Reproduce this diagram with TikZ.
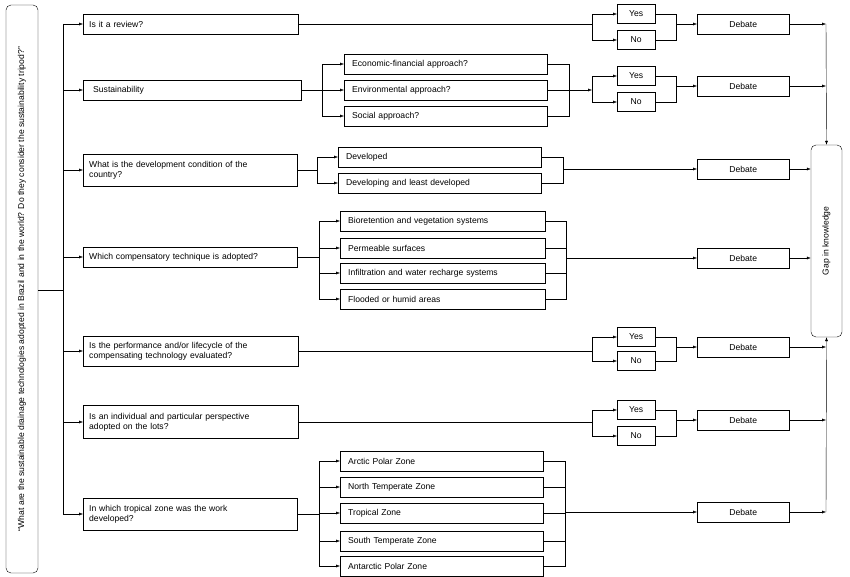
\documentclass[tikz,border=0pt]{standalone}
\usepackage{fontspec}
\setmainfont{Liberation Sans}
\usetikzlibrary{arrows.meta}

\begin{document}
\begin{tikzpicture}[x=1pt,y=-1pt,
		every node/.style={font=\fontsize{8.6}{10}\selectfont},
		arr/.style={-{Latex[length=4pt,width=3pt]}},
		qbox/.style={draw, anchor=west, minimum height=20, text width=#1, align=left, inner xsep=6pt},
		obox/.style={draw, anchor=west, minimum height=20, minimum width=#1, text width=#1-16, align=left, inner xsep=8pt},
		ybox/.style={draw, anchor=west, minimum height=19, minimum width=38},
		dbox/.style={draw, anchor=west, minimum height=20, minimum width=92}]
		\useasboundingbox (0,0) rectangle (850,577);
		% main question and gap box
		\node[draw, rounded corners=5, minimum width=32, minimum height=568] (main) at (22,289) {};
		\node[rotate=90] at (main.center) {``What are the sustainable drainage technologies adopted in Brazil and in the world? Do they consider the sustainability tripod?''};
		\node[draw, rounded corners=5, minimum width=31, minimum height=192] (gap) at (826.5,241) {};
		\node[rotate=90] at (gap.center) {Gap in knowledge};
		% questions
		\node[qbox=203] (q1) at (83,24) {Is it a review?};
		\node[qbox=206] (q2) at (83,90) {\hspace{4pt}Sustainability};
		\node[qbox=202, minimum height=32] (q3) at (83,170) {What is the development condition of the\\country?};
		\node[qbox=202] (q4) at (83,257) {Which compensatory technique is adopted?};
		\node[qbox=203, minimum height=30] (q5) at (83,351) {Is the performance and/or lifecycle of the\\compensating technology evaluated?};
		\node[qbox=203, minimum height=33] (q6) at (83,422) {Is an individual and particular perspective\\adopted on the lots?};
		\node[qbox=202, minimum height=32] (q7) at (83,514) {In which tropical zone was the work\\developed?};
		\coordinate (sp) at (63,290);
		\draw (main.east |- sp) -- (sp);
		\draw (63,24) -- (63,514);
		\foreach \q in {q1,q2,q3,q4,q5,q6,q7}
			\draw[arr] (63,0 |- \q.west) -- (\q.west);
		% debates
		\foreach \n/\y in {1/24,2/86,3/169,4/258,5/347,6/420,7/512}
			\node[dbox] (d\n) at (697,\y) {Debate};
		% yes/no branches
		\foreach \n/\d/\a/\b in {1/1/14/40,2/2/76/102,5/5/337/361,6/6/410/436}{
			\node[ybox] (y\n) at (617,\a) {Yes};
			\node[ybox] (n\n) at (617,\b) {No};
			\coordinate (s\n) at (592,\a/2+\b/2);
			\coordinate (m\n) at (676,\a/2+\b/2);
			\draw[arr] (s\n) |- (y\n.west);
			\draw[arr] (s\n) |- (n\n.west);
			\draw (y\n.east) -| (m\n) |- (n\n.east);
			\draw[arr] (m\n |- d\d.west) -- (d\d.west);
		}
		\draw (q1.east) -- (q1.east -| s1);
		\draw (q5.east) -- (q5.east -| s5);
		\draw (q6.east) -- (q6.east -| s6);
		% sustainability
		\node[obox=203] (e1) at (344,64) {Economic-financial approach?};
		\node[obox=203] (e2) at (344,90) {Environmental approach?};
		\node[obox=203] (e3) at (344,116) {Social approach?};
		\draw (q2.east) -- (322,90);
		\foreach \o in {e1,e2,e3} {
			\draw[arr] (322,90) |- (\o.west);
			\draw (\o.east) -| (569,90);
		}
		\draw[arr] (569,90) -- (e2.east -| s2);
		% development
		\node[obox=203] (v1) at (338,157) {Developed};
		\node[obox=203] (v2) at (338,183) {Developing and least developed};
		\draw (q3.east) -- (317,170);
		\foreach \o in {v1,v2} {
			\draw[arr] (317,170) |- (\o.west);
			\draw (\o.east) -| (563,169);
		}
		\draw[arr] (563,169) -- (d3.west);
		% techniques
		\node[obox=205] (t1) at (340,221) {Bioretention and vegetation systems};
		\node[obox=205] (t2) at (340,248) {Permeable surfaces};
		\node[obox=205] (t3) at (340,273) {Infiltration and water recharge systems};
		\node[obox=205] (t4) at (340,299) {Flooded or humid areas};
		\draw (319,221) -- (319,299);
		\draw (q4.east) -- (319,257);
		\foreach \o in {t1,t2,t3,t4} {
			\draw[arr] (319,0 |- \o.west) -- (\o.west);
			\draw (\o.east) -| (566,258);
		}
		\draw[arr] (566,258) -- (d4.west);
		% zones
		\node[obox=203] (z1) at (340,461) {Arctic Polar Zone};
		\node[obox=203] (z2) at (340,487) {North Temperate Zone};
		\node[obox=203] (z3) at (340,513) {Tropical Zone};
		\node[obox=203] (z4) at (340,541) {South Temperate Zone};
		\node[obox=203] (z5) at (340,566) {Antarctic Polar Zone};
		\draw (319,461) -- (319,566);
		\draw (q7.east) -- (319,514);
		\foreach \o in {z1,z2,z3,z4,z5} {
			\draw[arr] (319,0 |- \o.west) -- (\o.west);
			\draw (\o.east) -| (565,512);
		}
		\draw[arr] (565,512) -- (d7.west);
		% to gap
		\foreach \n in {1,2,5,6,7}
			\draw[arr] (d\n.east) -- (826,0 |- d\n.east);
		\foreach \n in {3,4}
			\draw[arr] (d\n.east) -- (gap.west |- d\n.east);
		\draw[arr] (826,24) -- (gap.north);
		\draw[arr] (826,512) -- (gap.south);
\end{tikzpicture}
\end{document}
